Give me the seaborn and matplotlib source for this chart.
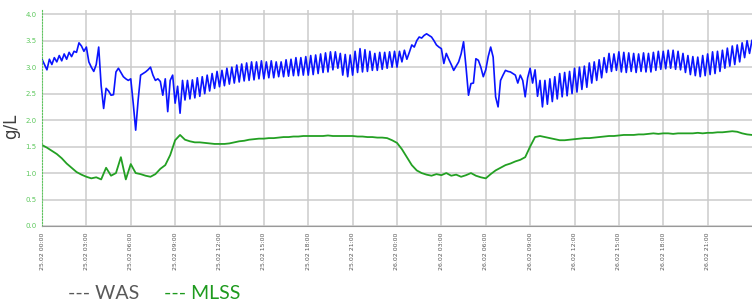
import numpy as np
import pandas as pd
import seaborn as sb
from matplotlib import pyplot as plt
from matplotlib.ticker import MultipleLocator, FormatStrFormatter

# WAS in g/L, one value every 10 minutes from 25.02 00:00 (row = one hour)
was = [
    3.15, 3.05, 2.95, 3.15, 3.05, 3.18,
    3.10, 3.22, 3.12, 3.25, 3.15, 3.28,
    3.20, 3.30, 3.28, 3.46, 3.40, 3.30,
    3.38, 3.10, 3.00, 2.92, 3.05, 3.38,
    2.65, 2.22, 2.60, 2.55, 2.47, 2.48,
    2.91, 2.98, 2.90, 2.82, 2.78, 2.75,
    2.78, 2.32, 1.81, 2.38, 2.85, 2.88,
    2.91, 2.95, 3.00, 2.85, 2.75, 2.78,
    2.73, 2.47, 2.78, 2.16, 2.75, 2.85,
    2.32, 2.64, 2.13, 2.75, 2.38, 2.75,
    2.40, 2.76, 2.42, 2.80, 2.45, 2.82,
    2.50, 2.85, 2.55, 2.88, 2.60, 2.92,
    2.63, 2.94, 2.65, 2.98, 2.68, 3.00,
    2.70, 3.04, 2.72, 3.06, 2.74, 3.08,
    2.75, 3.10, 2.76, 3.10, 2.78, 3.12,
    2.78, 3.10, 2.80, 3.12, 2.80, 3.10,
    2.82, 3.10, 2.82, 3.14, 2.83, 3.15,
    2.84, 3.18, 2.84, 3.18, 2.85, 3.20,
    2.85, 3.22, 2.86, 3.23, 2.88, 3.25,
    2.90, 3.27, 2.91, 3.29, 2.95, 3.29,
    2.98, 3.26, 2.85, 3.24, 2.82, 3.23,
    2.85, 3.30, 2.90, 3.35, 2.91, 3.33,
    2.92, 3.30, 2.94, 3.26, 2.94, 3.28,
    2.96, 3.28, 2.98, 3.29, 3.00, 3.30,
    3.00, 3.30, 3.10, 3.32, 3.15, 3.28,
    3.42, 3.38, 3.50, 3.57, 3.55, 3.60,
    3.63, 3.60, 3.57, 3.50, 3.42, 3.38,
    3.35, 3.07, 3.26, 3.15, 3.05, 2.94,
    3.02, 3.10, 3.25, 3.48, 3.00, 2.47,
    2.69, 2.70, 3.16, 3.13, 3.00, 2.82,
    2.95, 3.20, 3.38, 3.19, 2.44, 2.25,
    2.75, 2.85, 2.94, 2.92, 2.91, 2.88,
    2.85, 2.70, 2.85, 2.75, 2.44, 2.80,
    2.98, 2.70, 2.95, 2.45, 2.75, 2.25,
    2.75, 2.30, 2.78, 2.35, 2.82, 2.40,
    2.88, 2.44, 2.90, 2.46, 2.92, 2.50,
    2.98, 2.53, 3.00, 2.58, 3.02, 2.62,
    3.08, 2.70, 3.10, 2.75, 3.14, 2.80,
    3.18, 2.90, 3.26, 2.92, 3.25, 2.94,
    3.29, 2.91, 3.28, 2.90, 3.27, 2.92,
    3.26, 2.90, 3.25, 2.92, 3.27, 2.91,
    3.26, 2.91, 3.28, 2.94, 3.30, 2.96,
    3.30, 2.97, 3.32, 2.98, 3.32, 2.96,
    3.30, 2.95, 3.26, 2.90, 3.22, 2.86,
    3.20, 2.84, 3.19, 2.82, 3.22, 2.84,
    3.25, 2.86, 3.29, 2.88, 3.30, 2.92,
    3.32, 2.98, 3.36, 3.02, 3.40, 3.05,
    3.42, 3.10, 3.46, 3.18, 3.50, 3.26,
    3.51,
]

# MLSS in g/L, one value every 20 minutes
mlss = [
    1.53, 1.48, 1.42, 1.36, 1.28, 1.18, 1.10, 1.02, 0.97, 0.93, 0.90, 0.92,
    0.88, 1.10, 0.95, 1.00, 1.30, 0.88, 1.17, 1.00, 0.98, 0.95, 0.93, 0.98,
    1.08, 1.15, 1.34, 1.62, 1.72, 1.63, 1.60, 1.58, 1.58, 1.57, 1.56, 1.55,
    1.55, 1.55, 1.56, 1.58, 1.60, 1.61, 1.63, 1.64, 1.65, 1.65, 1.66, 1.66,
    1.67, 1.68, 1.68, 1.69, 1.69, 1.70, 1.70, 1.70, 1.70, 1.70, 1.71, 1.70,
    1.70, 1.70, 1.70, 1.70, 1.69, 1.69, 1.68, 1.68, 1.67, 1.67, 1.66, 1.62,
    1.57, 1.45, 1.30, 1.15, 1.05, 1.00, 0.97, 0.95, 0.98, 0.96, 1.00, 0.95,
    0.97, 0.93, 0.96, 1.00, 0.95, 0.92, 0.90, 0.98, 1.05, 1.10, 1.15, 1.18,
    1.22, 1.25, 1.30, 1.50, 1.68, 1.70, 1.68, 1.66, 1.64, 1.62, 1.62, 1.63,
    1.64, 1.65, 1.66, 1.66, 1.67, 1.68, 1.69, 1.70, 1.70, 1.71, 1.72, 1.72,
    1.72, 1.73, 1.73, 1.74, 1.75, 1.74, 1.75, 1.75, 1.74, 1.75, 1.75, 1.75,
    1.75, 1.76, 1.75, 1.76, 1.76, 1.77, 1.77, 1.78, 1.79, 1.78, 1.75, 1.73,
    1.72,
]

tick_labels = ['25.02 00:00', '25.02 03:00', '25.02 06:00', '25.02 09:00',
               '25.02 12:00', '25.02 15:00', '25.02 18:00', '25.02 21:00',
               '26.02 00:00', '26.02 03:00', '26.02 06:00', '26.02 09:00',
               '26.02 12:00', '26.02 15:00', '26.02 18:00', '26.02 21:00']

df_was = pd.DataFrame({'hour': np.arange(len(was)) / 6, 'g/L': was})
df_mlss = pd.DataFrame({'hour': np.arange(len(mlss)) / 3, 'g/L': mlss})

sb.set_style('white')
fig = plt.figure(figsize=(7.52, 3.08), dpi=100)
ax = fig.add_axes([42 / 752, 82 / 308, 710 / 752, 216 / 308])

sb.lineplot(data=df_was, x='hour', y='g/L', color='#0a14ff', lw=1.2, ax=ax)
sb.lineplot(data=df_mlss, x='hour', y='g/L', color='#23a023', lw=1.3, ax=ax)

ax.set_xlim(0, 48)
ax.set_ylim(0, 4.08)
ax.set_xticks(np.arange(0, 48, 3))
ax.set_xticklabels(tick_labels, rotation=90, fontsize=4.5, color='#555555')
ax.xaxis.set_minor_locator(MultipleLocator(0.5))
ax.set_yticks(np.arange(0, 4.01, 0.5))
ax.yaxis.set_major_formatter(FormatStrFormatter('%.1f'))
ax.yaxis.set_minor_locator(MultipleLocator(0.1))
ax.tick_params(axis='y', labelsize=5, colors='#5cc85c', length=3, pad=1)
ax.tick_params(axis='x', length=3, pad=2, colors='#888888')
ax.tick_params(axis='x', labelcolor='#555555')
ax.tick_params(which='minor', length=2)
ax.tick_params(axis='y', which='minor', colors='#5cc85c')

ax.grid(True, color='#cbcbcb', lw=1.1)
ax.set_xlabel('')
ax.set_ylabel('g/L', fontsize=12, color='#404040', family='DejaVu Sans')
ax.yaxis.set_label_coords(-22 / 710, 0.46)

for side in ['top', 'right']:
    ax.spines[side].set_visible(False)
ax.spines['left'].set_color('#5cc85c')
ax.spines['left'].set_linestyle(':')
ax.spines['bottom'].set_color('#999999')

fig.text(68 / 752, 0.03, '--- WAS', fontsize=14, color='#595959', family='Lato')
fig.text(164 / 752, 0.03, '--- MLSS', fontsize=14, color='#1e9a1e', family='Lato')

fig.savefig('out.png', dpi=100)
